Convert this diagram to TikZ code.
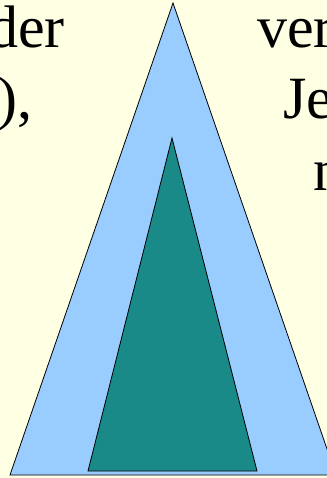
\documentclass[tikz,border=0pt]{standalone}
\usepackage{fontspec}
\setmainfont{Liberation Serif}
\definecolor{bg}{RGB}{255,255,228}
\definecolor{lblue}{RGB}{153,204,255}
\definecolor{teal2}{RGB}{26,138,136}
\begin{document}
\begin{tikzpicture}[x=0.75pt,y=-0.75pt,
  txt/.style={anchor=base west,inner sep=0pt,font=\fontsize{45}{54}\selectfont}]
\useasboundingbox (0,0) rectangle (327,478);
\clip (0,0) rectangle (327,478);
\fill[bg] (0,0) rectangle (327,478);
\node[txt] (t1) at (-12,48) {der};
\node[txt] (t2) at (-3,118) {),};
\node[txt] (t3) at (257,48) {ver};
\node[txt] (t4) at (283,118) {Je};
\node[txt] (t5) at (313,190) {n};
\draw[fill=lblue,line width=0.6pt] (173,3) -- (336,475) -- (10,475) -- cycle;
\draw[fill=teal2,line width=0.6pt] (172,138) -- (257,471) -- (88,471) -- cycle;
\end{tikzpicture}
\end{document}
